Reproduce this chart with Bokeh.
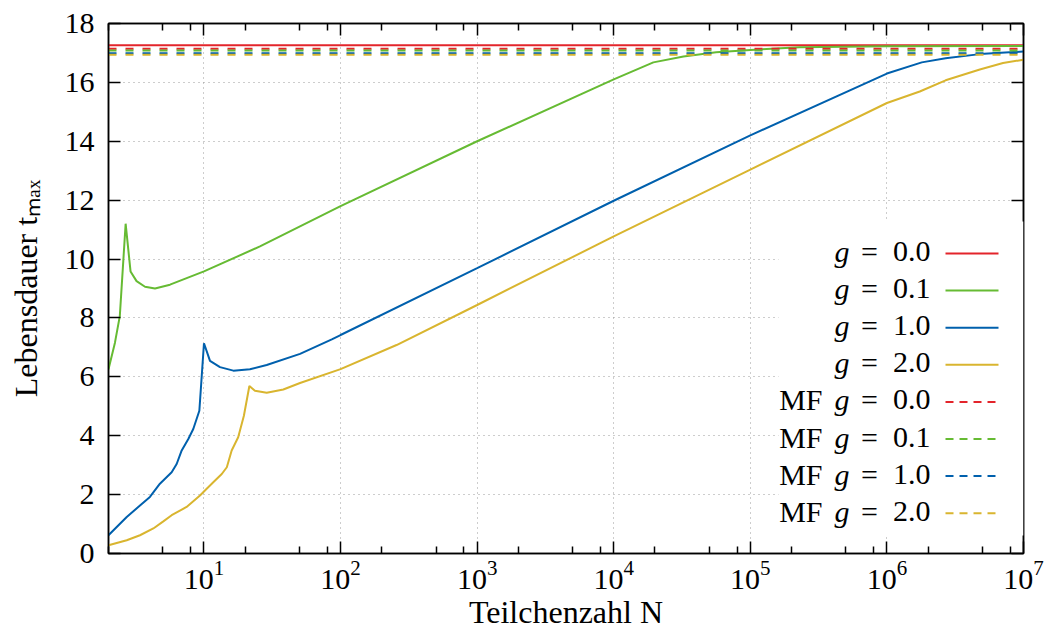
from bokeh.plotting import figure
from bokeh.models import (Range1d, LinearAxis, LogAxis, FixedTicker, LogTickFormatter,
                          CustomJSTickFormatter, Label, Arrow, BoxAnnotation)
from bokeh.embed import file_html
from bokeh.resources import INLINE

# ---------------- data ----------------
N_g00 = [2.0, 1e7]
t_g00 = [17.26, 17.26]

N_g01 = [2.0, 2.23, 2.42, 2.67, 2.90, 3.21, 3.70, 4.38, 5.64, 7.0, 10.0, 25.7, 100.0,
         1e3, 1e4, 1.95e4, 3.24e4, 5.62e4, 1e5, 2.29e5, 1e6, 1e7]
t_g01 = [6.26, 7.16, 8.06, 11.2, 9.58, 9.25, 9.06, 9.0, 9.13, 9.3, 9.58, 10.43, 11.8,
         14.0, 16.1, 16.68, 16.88, 17.02, 17.1, 17.19, 17.23, 17.24]

N_g10 = [2.0, 2.72, 3.40, 4.02, 4.76, 5.80, 6.31, 6.87, 7.68, 8.35, 9.25, 10.0, 11.07,
         13.1, 16.4, 21.7, 28.8, 50.5, 86.3, 1e2, 1e3, 1e4, 1e5, 1e6,
         1.8e6, 2.69e6, 4.79e6, 1e7]
t_g10 = [0.62, 1.24, 1.63, 1.92, 2.37, 2.76, 3.04, 3.5, 3.89, 4.23, 4.85, 7.14, 6.54,
         6.33, 6.21, 6.26, 6.4, 6.78, 7.27, 7.42, 9.69, 11.98, 14.2, 16.3,
         16.68, 16.82, 16.96, 17.05]

N_g20 = [2.0, 2.72, 3.40, 4.26, 5.04, 5.80, 7.46, 9.35, 10.47, 11.7, 13.5, 14.7, 15.95,
         17.8, 19.6, 21.5, 23.6, 28.8, 38.1, 50.5, 1e2, 257.0, 1e3, 1e4,
         1e5, 1e6, 1.74e6, 2.69e6, 4.79e6, 7.08e6, 1e7]
t_g20 = [0.28, 0.45, 0.62, 0.85, 1.09, 1.3, 1.58, 1.97, 2.2, 2.42, 2.7, 2.93, 3.5,
         3.95, 4.68, 5.69, 5.53, 5.46, 5.57, 5.79, 6.26, 7.08, 8.44, 10.77,
         13.04, 15.3, 15.69, 16.07, 16.44, 16.66, 16.77]

mf_values = [17.14, 17.08, 16.99, 16.94]     # mean-field lifetimes for g = 0.0, 0.1, 1.0, 2.0
g_labels = ["0.0", "0.1", "1.0", "2.0"]

x_major = [1e1, 1e2, 1e3, 1e4, 1e5, 1e6, 1e7]
x_minor = [m * d for d in [1, 10, 100, 1e3, 1e4, 1e5, 1e6] for m in (2, 5, 8)]
y_major = [0, 2, 4, 6, 8, 10, 12, 14, 16, 18]

colors = ["#e3242b", "#66bb33", "#0060ad", "#d9b52f"]
FONT = "Liberation Serif"
FS = "30px"
FS_LABEL = "32px"

# ---------------- figure ----------------
p = figure(width=1045, height=632, x_axis_type="log",
           x_range=Range1d(2, 1e7), y_range=Range1d(0, 18),
           output_backend="svg", toolbar_location=None,
           min_border_left=108, min_border_right=22, min_border_top=23, min_border_bottom=77)
p.outline_line_color = "black"
p.outline_line_width = 1.5

xt = FixedTicker(ticks=x_major, minor_ticks=x_minor)
yt = FixedTicker(ticks=y_major)

def style_axis(ax):
    ax.axis_line_color = "black"
    ax.axis_line_width = 1.5
    ax.major_tick_in = 12
    ax.major_tick_out = 0
    ax.minor_tick_in = 7
    ax.minor_tick_out = 0
    ax.major_tick_line_width = 1.5
    ax.minor_tick_line_width = 1.5
    ax.major_label_text_font = FONT
    ax.major_label_text_font_size = FS
    ax.major_label_text_color = "black"
    ax.axis_label_text_font = FONT
    ax.axis_label_text_font_size = FS_LABEL
    ax.axis_label_text_font_style = "normal"
    ax.axis_label_text_color = "black"

xa = p.xaxis[0]
xa.ticker = xt
xa.formatter = LogTickFormatter()
style_axis(xa)
xa.major_label_standoff = 7
xa.axis_label = "Teilchenzahl N"
xa.axis_label_standoff = 2

ya = p.yaxis[0]
ya.ticker = yt
style_axis(ya)
ya.minor_tick_line_color = None
ya.major_label_standoff = 14
ya.axis_label = "Lebensdauer tₘₐₓ"
ya.axis_label_standoff = 18

empty = CustomJSTickFormatter(code="return ''")
top = LogAxis(ticker=xt, formatter=empty)
style_axis(top)
top.major_label_standoff = 0
p.add_layout(top, "above")
right = LinearAxis(ticker=yt, formatter=empty)
style_axis(right)
right.minor_tick_line_color = None
right.major_label_standoff = 0
p.add_layout(right, "right")

for g in (p.xgrid[0], p.ygrid[0]):
    g.grid_line_color = "#9a9a9a"
    g.grid_line_dash = "1 4"
    g.grid_line_width = 1
p.xgrid[0].ticker = xt
p.ygrid[0].ticker = yt

# ---------------- curves ----------------
series = [(N_g00, t_g00), (N_g01, t_g01), (N_g10, t_g10), (N_g20, t_g20)]
for (xs, ys), c in zip(series, colors):
    p.line(xs, ys, line_color=c, line_width=2)

x_span = [N_g00[0], N_g00[-1]]
for mf, c in zip(mf_values, colors):
    p.line(x_span, [mf, mf], line_color=c, line_width=2, line_dash="8 9")

# ---------------- legend (text left, sample right) ----------------
p.add_layout(BoxAnnotation(left=670, right=915, bottom=18, top=332,
                           left_units="screen", right_units="screen",
                           bottom_units="screen", top_units="screen",
                           fill_color="white", fill_alpha=1.0, line_alpha=0))
row_h = 37.1
for i in range(8):
    k = i % 4
    base_y = 302.0 - row_h * i
    mid_y = 300.0 - row_h * i
    kw = dict(x_units="screen", y_units="screen", text_font=FONT, text_font_size=FS,
              text_color="black", text_baseline="alphabetic")
    if i >= 4:
        p.add_layout(Label(x=714, y=base_y, text="MF", text_align="right", **kw))
    p.add_layout(Label(x=741, y=base_y, text="g", text_align="right",
                       text_font_style="italic", **kw))
    p.add_layout(Label(x=761, y=base_y, text="=", text_align="center", **kw))
    p.add_layout(Label(x=822, y=base_y, text=g_labels[k], text_align="right", **kw))
    p.add_layout(Arrow(end=None, x_start=837, x_end=890, y_start=mid_y, y_end=mid_y,
                       start_units="screen", end_units="screen",
                       line_color=colors[k], line_width=2,
                       line_dash=("solid" if i < 4 else "8 6")))

open("out.html", "w").write(file_html(p, INLINE))
